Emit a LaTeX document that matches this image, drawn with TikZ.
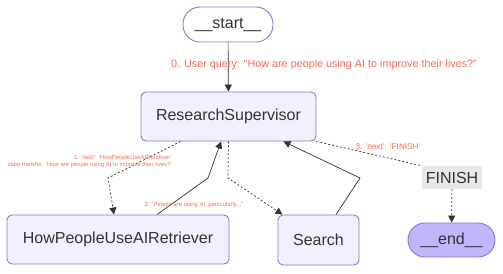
\documentclass[tikz,border=0pt]{standalone}
\usepackage{fontspec}
\setmainfont{Liberation Sans}
\usetikzlibrary{arrows.meta}
\definecolor{nodefill}{HTML}{F2F0FF}
\definecolor{nodeline}{HTML}{9370DB}
\definecolor{endfill}{HTML}{BFB6FC}
\definecolor{finfill}{HTML}{E8E8E8}
\definecolor{lbl}{HTML}{FF6A55}
\definecolor{ink}{HTML}{333333}
\tikzset{
  box/.style={draw=nodeline, fill=nodefill, line width=0.9pt, rounded corners=5pt,
    inner sep=0pt, text=ink, font=\fontsize{16}{18}\selectfont},
  terminal/.style={box, rounded corners=17pt},
  finbox/.style={fill=finfill, inner sep=0pt, text=ink, font=\fontsize{16}{18}\selectfont},
  solidedge/.style={draw=ink, line width=0.7pt, -{Triangle[length=7pt,width=7pt]}},
  dotedge/.style={draw=ink, line width=0.7pt, dash pattern=on 2pt off 2pt},
  dotarrow/.style={dotedge, -{Triangle[length=7pt,width=7pt]}},
  edgelabel/.style={text=lbl, inner sep=0pt},
}
\begin{document}
\begin{tikzpicture}[x=1pt, y=-1pt]
\useasboundingbox (0,0) rectangle (503,273);
% graph nodes
\node[terminal, fill=white, minimum width=90pt, minimum height=35pt] (start) at (228,24.5) {\_\_start\_\_};
\node[box, minimum width=175pt, minimum height=49pt] (rs) at (228.5,116.5) {ResearchSupervisor};
\node[box, minimum width=222pt, minimum height=49pt] (hp) at (118,239.5) {HowPeopleUseAIRetriever};
\node[box, minimum width=81pt, minimum height=50pt] (search) at (318.5,240) {Search};
\node[finbox, minimum width=60pt, minimum height=23pt] (finish) at (452,177.5) {FINISH};
\node[terminal, fill=endfill, minimum width=87pt, minimum height=34pt] (end) at (451.5,240) {\_\_end\_\_};
% bend points
\coordinate (b1) at (108,178);
\coordinate (b2) at (208,178);
\coordinate (b3) at (228,178);
\coordinate (b4) at (360,178);
% connectors
\draw[solidedge] (start) -- (rs);
\draw[dotarrow] ([xshift=-48pt]rs.south) -- (b1) -- ([xshift=-4pt]hp.north);
\draw[solidedge] ([xshift=39pt]hp.north) -- (b2) -- ([xshift=-7.5pt]rs.south);
\draw[dotarrow] (rs.south) -- (b3) -- ([xshift=-36pt]search.north);
\draw[solidedge] ([xshift=17.5pt]search.north) -- (b4) -- ([xshift=55pt]rs.south);
\draw[dotedge] (rs.south east) -- (finish.north west);
\draw[dotarrow] (finish) -- (end);
% edge labels
\node[edgelabel, font=\fontsize{10.8}{12}\selectfont] (l0) at (324,65)
  {0. User query: “How are people using AI to improve their lives?”};
\node[edgelabel, font=\fontsize{5.9}{7.2}\selectfont, align=right, anchor=east] (l1) at (172,161.5)
  {1. 'next': 'HowPeopleUseAIRetriever'\\state transfer: 'How are people using AI to improve their lives?'};
\node[edgelabel, font=\fontsize{5.9}{7.2}\selectfont] (l2) at (194,205)
  {2. “People are using AI, particularly...”};
\node[edgelabel, font=\fontsize{8.2}{9.5}\selectfont] (l3) at (388,147)
  {3. 'next': 'FINISH'};
\end{tikzpicture}
\end{document}
